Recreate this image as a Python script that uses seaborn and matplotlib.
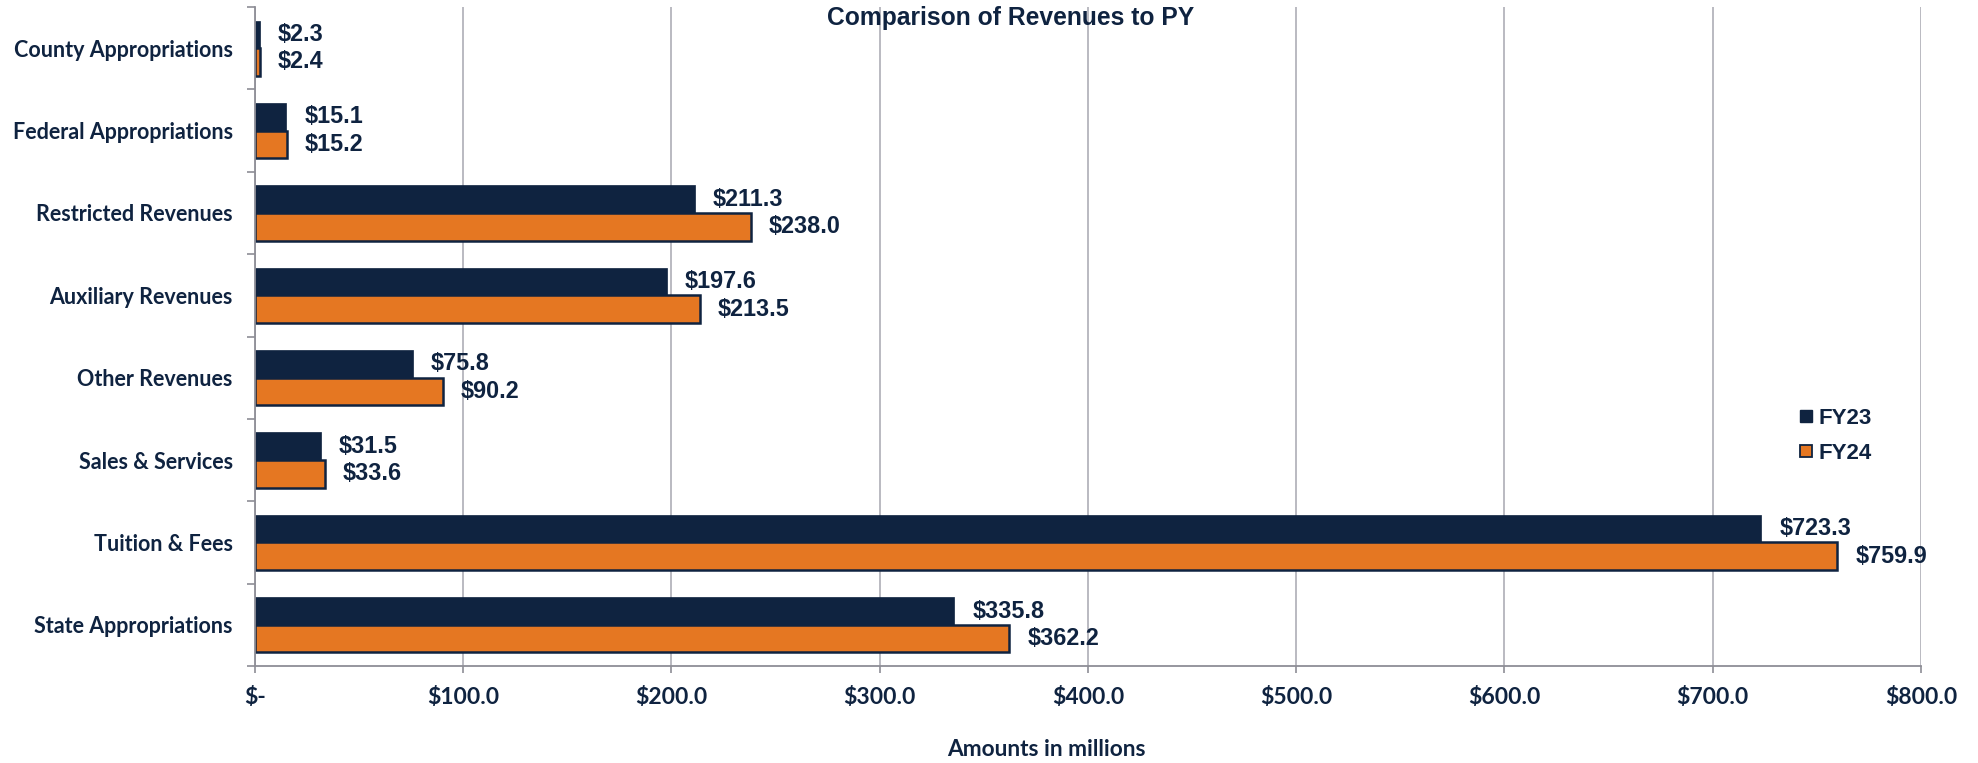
import matplotlib
matplotlib.use("Agg")
import matplotlib.pyplot as plt
from matplotlib.lines import Line2D
from matplotlib.ticker import FixedLocator
import seaborn as sns
import pandas as pd
import numpy as np

categories = ["County Appropriations", "Federal Appropriations", "Restricted Revenues",
              "Auxiliary Revenues", "Other Revenues", "Sales & Services",
              "Tuition & Fees", "State Appropriations"]
fy23 = [2.3, 15.1, 211.3, 197.6, 75.8, 31.5, 723.3, 335.8]
fy24 = [2.4, 15.2, 238.0, 213.5, 90.2, 33.6, 759.9, 362.2]
series = ["FY23", "FY24"]
x_ticks = [0, 100, 200, 300, 400, 500, 600, 700, 800]

NAVY = "#0F2340"
ORANGE = "#E57722"
GRID = "#B4B4BC"
AXIS = "#8E8E96"

df = pd.DataFrame({
    "category": categories * 2,
    "value": fy23 + fy24,
    "year": ["FY23"] * len(categories) + ["FY24"] * len(categories),
})

sns.set_theme(style="white")
plt.rcParams['font.family'] = ['Liberation Sans', 'DejaVu Sans']

fig = plt.figure(figsize=(19.78, 7.63), dpi=100)
ax = fig.add_axes([255/1978, 1-666/763, (1921-255)/1978, (666-7)/763])

sns.barplot(data=df, y="category", x="value", hue="year", order=categories,
            hue_order=series, palette=[NAVY, ORANGE], orient="h", width=0.67,
            gap=0, saturation=1, legend=False, ax=ax)

# styling of bars
for p in ax.containers[0]:
    p.set_edgecolor(NAVY)
    p.set_linewidth(0.5)
for p in ax.containers[1]:
    p.set_edgecolor(NAVY)
    p.set_linewidth(1.8)

for cont, vals in zip(ax.containers, [fy23, fy24]):
    ax.bar_label(cont, labels=[f"${v:.1f}" for v in vals], padding=13,
                 fontsize=16.8, fontweight="bold", color=NAVY,
                 family=['Liberation Sans', 'DejaVu Sans'])

ax.set_xlim(0, 800)
ax.set_ylim(len(categories) - 0.5, -0.5)
ax.set_xticks(x_ticks)
ax.set_xticklabels(["$-" if v == 0 else f"${v:.1f}" for v in x_ticks],
                   fontsize=16.5, fontweight="bold", color=NAVY, family=['Lato', 'DejaVu Sans'])
ax.tick_params(axis="x", which="major", length=5, width=1.2, color=AXIS, pad=10, direction="out")
ax.set_yticks(range(len(categories)))
ax.set_yticklabels(categories, fontsize=15.5, fontweight="bold", color=NAVY,
                   family=['Lato', 'DejaVu Sans'])
ax.tick_params(axis="y", which="major", length=0, pad=16)
ax.yaxis.set_minor_locator(FixedLocator(np.arange(-0.5, len(categories), 1.0)))
ax.tick_params(axis="y", which="minor", length=6, width=1.2, color=AXIS, left=True)
ax.tick_params(axis="x", bottom=True)

ax.grid(axis="x", color=GRID, linewidth=1.3)
ax.grid(axis="y", visible=False)
ax.set_axisbelow(True)
for s in ["top", "right"]:
    ax.spines[s].set_visible(False)
for s in ["left", "bottom"]:
    ax.spines[s].set_color(AXIS)
    ax.spines[s].set_linewidth(1.3)
ax.set_xlabel("")
ax.set_ylabel("")

handles = [Line2D([0], [0], marker="s", linestyle="none", markersize=8,
                  markerfacecolor=NAVY, markeredgecolor=NAVY, markeredgewidth=1),
           Line2D([0], [0], marker="s", linestyle="none", markersize=8,
                  markerfacecolor=ORANGE, markeredgecolor=NAVY, markeredgewidth=1.3)]
leg = ax.legend(handles, series, loc="center left",
                bbox_to_anchor=(1788/1978, 1-436/763), bbox_transform=fig.transFigure,
                frameon=False, handlelength=0.6, handletextpad=0.25, labelspacing=0.65,
                borderpad=0, prop={'family': ['Liberation Sans', 'DejaVu Sans'], 'weight': 'bold', 'size': 16})
for t in leg.get_texts():
    t.set_color(NAVY)

fig.text(1011/1978, 1-18.5/763, "Comparison of Revenues to PY", ha="center", va="center",
         fontsize=17.7, fontweight="bold", color=NAVY, family=['Liberation Sans', 'DejaVu Sans'])
fig.text(1046/1978, 1-749/763, "Amounts in millions", ha="center", va="center",
         fontsize=16.3, fontweight="bold", color=NAVY, family=['Lato', 'DejaVu Sans'])

fig.savefig("out.png", dpi=100)
